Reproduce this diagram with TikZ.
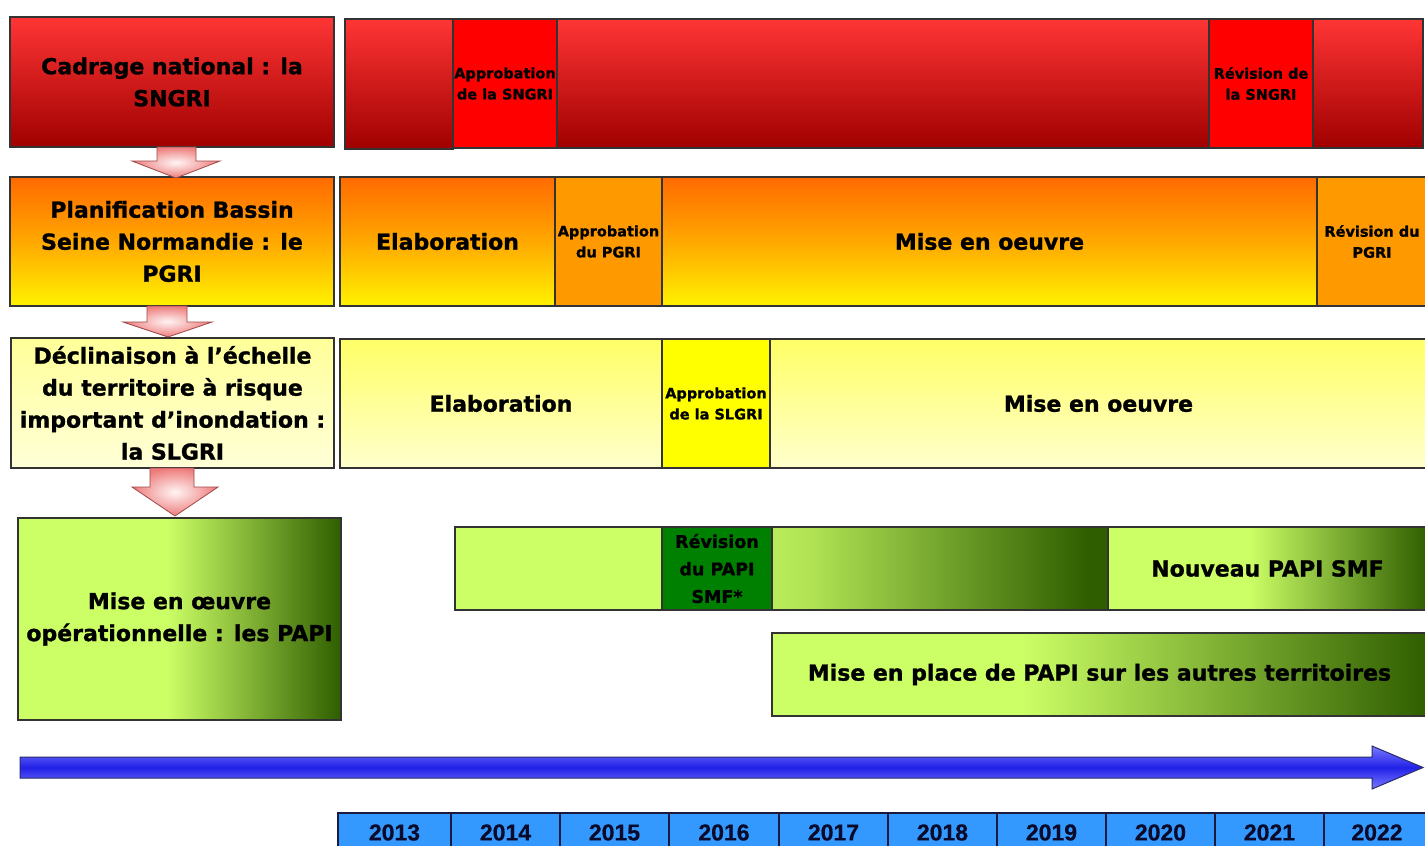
\documentclass[tikz,border=0pt]{standalone}
\usepackage{fontspec}
\setmainfont{DejaVu Sans}[BoldFeatures={FakeBold=1.2}]
\newfontfamily\yearfont{Liberation Sans}[BoldFeatures={FakeBold=0.6}]
\definecolor{edge}{HTML}{333333}
\definecolor{redtop}{HTML}{FF3535}
\definecolor{redbot}{HTML}{A00000}
\definecolor{redsolid}{HTML}{FF0000}
\definecolor{ortop}{HTML}{FF6A00}
\definecolor{ormid}{HTML}{FFA800}
\definecolor{orbot}{HTML}{FFF200}
\definecolor{orsolid}{HTML}{FF9900}
\definecolor{yetop}{HTML}{FFFF66}
\definecolor{yebot}{HTML}{FFFFCC}
\definecolor{ltop}{HTML}{FFFF99}
\definecolor{lbot}{HTML}{FFFFD8}
\definecolor{yesolid}{HTML}{FFFF00}
\definecolor{lg}{HTML}{CCFF66}
\definecolor{dg}{HTML}{2F5E00}
\definecolor{gsolid}{HTML}{008000}
\definecolor{yearblue}{HTML}{3399FF}
\definecolor{yearedge}{HTML}{1A1A40}
\definecolor{yeartext}{HTML}{0A0A2A}
\definecolor{blueT}{HTML}{7A7AFF}
\definecolor{blueM}{HTML}{2222E8}
\definecolor{blueedge}{HTML}{2A2A6A}
\definecolor{pinkin}{HTML}{FFF4F4}
\definecolor{pinkout}{HTML}{EE7B7B}
\definecolor{pinkedge}{HTML}{A04848}
\pgfdeclarehorizontalshading{gfadeA}{100bp}{color(0bp)=(lg); color(25bp)=(lg); color(48bp)=(lg); color(75bp)=(dg); color(100bp)=(dg)}
\pgfdeclarehorizontalshading{gfadeN}{100bp}{color(0bp)=(lg); color(25bp)=(lg); color(47bp)=(lg); color(75bp)=(dg); color(100bp)=(dg)}
\pgfdeclarehorizontalshading{gfadeP}{100bp}{color(0bp)=(lg); color(25bp)=(lg); color(44bp)=(lg); color(75bp)=(dg); color(100bp)=(dg)}
\pgfdeclarehorizontalshading{gfadeB}{100bp}{color(0bp)=(lg!88!dg); color(25bp)=(lg!88!dg); color(31bp)=(lg!82!dg); color(72bp)=(dg); color(100bp)=(dg)}
\newcommand{\seg}[7]{\node[seg,#6,minimum width={(#4)-(#2)},minimum height={(#5)-(#3)}] (#1) at ({((#2)+(#4))/2},{((#3)+(#5))/2}) {#7};}
\tikzset{
  seg/.style={draw=edge, line width=1.3pt, inner sep=0pt, align=center, text=black},
  big/.style={font=\fontsize{22}{32}\selectfont\bfseries},
  small/.style={font=\fontsize{14.5}{21}\selectfont\bfseries},
  mid/.style={font=\fontsize{17.5}{27.5}\selectfont\bfseries},
  redgrad/.style={top color=redtop, bottom color=redbot},
  redflat/.style={fill=redsolid},
  orgrad/.style={top color=ortop, bottom color=orbot, middle color=ormid},
  orflat/.style={fill=orsolid},
  yegrad/.style={top color=yetop, bottom color=yebot},
  yeleft/.style={top color=ltop, bottom color=lbot},
  yeflat/.style={fill=yesolid},
  gflat/.style={fill=lg},
  gdark/.style={fill=gsolid},
  gA/.style={shade, shading=gfadeA},
  gN/.style={shade, shading=gfadeN},
  gP/.style={shade, shading=gfadeP},
  gB/.style={shade, shading=gfadeB},
  yearcell/.style={fill=yearblue, draw=yearedge, font=\yearfont\fontsize{23}{26}\selectfont\bfseries, text=yeartext},
  pinkarrow/.style={draw=pinkedge, line width=0.8pt, inner color=pinkin, outer color=pinkout},
  bluearrow/.style={draw=blueedge, line width=1pt, top color=blueT, bottom color=blueT, middle color=blueM}
}
\begin{document}
\begin{tikzpicture}[x=1pt,y=-1pt]
\useasboundingbox (0,0) rectangle (1425,846);
\clip (0,0) rectangle (1425,846);
\fill[white] (0,0) rectangle (1425,846);

% left column
\seg{L1}{10}{17}{334}{147}{redgrad,big}{Cadrage national : la\\SNGRI}
\seg{L2}{10}{177}{334}{306}{orgrad,big}{Planification Bassin\\Seine Normandie : le\\PGRI}
\seg{L3}{11}{338}{334}{468}{yeleft,big}{Déclinaison à l’échelle\\du territoire à risque\\important d’inondation :\\la SLGRI}
\seg{L4}{18}{518}{341}{720}{gA,big}{Mise en œuvre\\opérationnelle : les PAPI}

% red row
\seg{R1}{345}{19}{453}{149}{redgrad}{}
\seg{R2}{453}{19}{557}{148}{redflat,small}{Approbation\\de la SNGRI}
\seg{R3}{557}{19}{1209}{148}{redgrad}{}
\seg{R4}{1209}{19}{1313}{148}{redflat,small}{Révision de\\la SNGRI}
\seg{R5}{1313}{19}{1423}{148}{redgrad}{}

% orange row
\seg{O1}{340}{177}{555}{306}{orgrad,big}{Elaboration}
\seg{O2}{555}{177}{662}{306}{orflat,small}{Approbation\\du PGRI}
\seg{O3}{662}{177}{1317}{306}{orgrad,big}{Mise en oeuvre}
\seg{O4}{1317}{177}{1427}{306}{orflat,small}{Révision du\\PGRI}

% yellow row
\seg{Y1}{340}{339}{662}{468}{yegrad,big}{Elaboration}
\seg{Y2}{662}{339}{770}{468}{yeflat,small}{Approbation\\de la SLGRI}
\seg{Y3}{770}{339}{1427}{468}{yegrad,big}{Mise en oeuvre}

% green rows
\seg{G1}{455}{527}{662}{610}{gflat}{}
\seg{G2}{662}{527}{772}{610}{gdark,mid}{Révision\\du PAPI\\SMF*}
\seg{G3}{772}{527}{1108}{610}{gB}{}
\seg{G4}{1108}{527}{1427}{610}{gN,big}{Nouveau PAPI SMF}
\seg{G5}{772}{633}{1427}{716}{gP,big}{Mise en place de PAPI sur les autres territoires}

% pink block arrows between levels
\path[pinkarrow] (157,147) -- (196,147) -- (196,161) -- (220,161) -- (176,178) -- (132,161) -- (157,161) -- cycle;
\path[pinkarrow] (147,306) -- (187,306) -- (187,322) -- (212,322) -- (168,337) -- (123,322) -- (147,322) -- cycle;
\path[pinkarrow] (150,468) -- (194,468) -- (194,487) -- (218,487) -- (175,516) -- (132,487) -- (150,487) -- cycle;

% time arrow
\path[bluearrow] (20,757) -- (1372,757) -- (1372,746) -- (1423,767.5) -- (1372,789) -- (1372,778) -- (20,778) -- cycle;

% years
\foreach \a/\b/\yr in {338/451/2013, 451/560/2014, 560/669/2015, 669/779/2016, 779/888/2017, 888/997/2018, 997/1106/2019, 1106/1215/2020, 1215/1324/2021, 1324/1430/2022}{
  \seg{y\yr}{\a}{813}{\b}{852}{yearcell}{\yr}
}
\end{tikzpicture}
\end{document}
